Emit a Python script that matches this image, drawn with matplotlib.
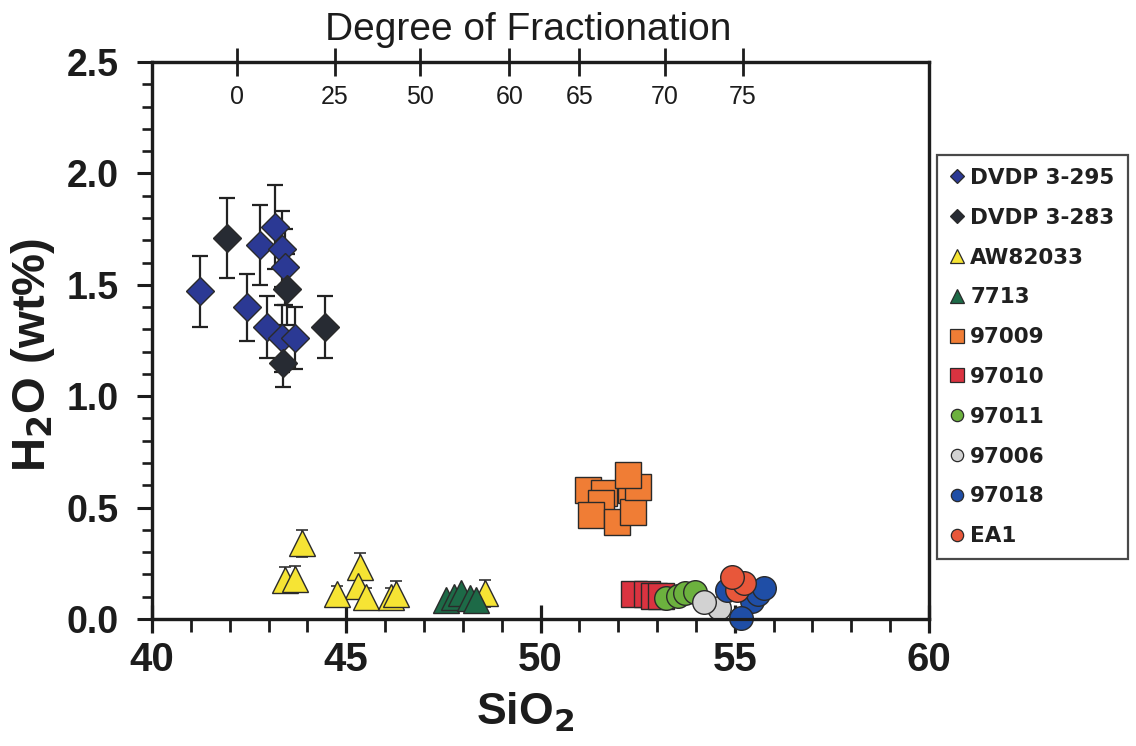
import matplotlib
matplotlib.use("Agg")
import matplotlib.pyplot as plt
from matplotlib.ticker import MultipleLocator
from matplotlib.lines import Line2D

plt.rcParams['font.family'] = ['Liberation Sans', 'DejaVu Sans']

# ---------------- data ----------------
dvdp295_x = [41.24, 42.44, 42.78, 42.95, 43.17, 43.34, 43.42, 43.34, 43.68]
dvdp295_y = [1.47, 1.40, 1.68, 1.31, 1.76, 1.66, 1.58, 1.26, 1.26]
dvdp295_e = [0.16, 0.15, 0.18, 0.14, 0.19, 0.17, 0.17, 0.15, 0.14]

dvdp283_x = [41.93, 43.47, 43.38, 44.45]
dvdp283_y = [1.71, 1.48, 1.15, 1.31]
dvdp283_e = [0.18, 0.16, 0.11, 0.14]

aw_x = [43.85, 43.42, 43.68, 45.35, 45.31, 44.75, 45.52, 46.16, 46.29, 48.56]
aw_y = [0.34, 0.175, 0.18, 0.235, 0.15, 0.11, 0.10, 0.10, 0.11, 0.115]
aw_e = [0.06, 0.06, 0.06, 0.06, 0.06, 0.04, 0.04, 0.04, 0.06, 0.06]

g7713_x = [47.57, 47.78, 47.95, 48.18, 48.33]
g7713_y = [0.085, 0.10, 0.115, 0.093, 0.085]

s97009_x = [51.21, 51.64, 52.32, 51.55, 51.30, 51.98, 52.37, 52.50, 52.24]
s97009_y = [0.579, 0.564, 0.579, 0.519, 0.467, 0.437, 0.482, 0.594, 0.646]

s97010_x = [52.40, 52.73, 52.91, 53.09]
s97010_y = [0.11, 0.11, 0.105, 0.105]

s97011_x = [53.22, 53.55, 53.72, 53.98]
s97011_y = [0.095, 0.105, 0.115, 0.12]

s97006_x = [54.60, 54.21]
s97006_y = [0.05, 0.075]

s97018_x = [54.81, 55.45, 55.60, 55.75, 55.15]
s97018_y = [0.13, 0.08, 0.11, 0.14, 0.005]

ea1_x = [55.06, 55.23, 54.93]
ea1_y = [0.13, 0.16, 0.19]

frac_sio2 = [42.2, 44.7, 46.9, 49.2, 51.0, 53.2, 55.2]
frac_labels = ['0', '25', '50', '60', '65', '70', '75']

# ---------------- figure ----------------
W, H = 1136, 746
X0, X1, Y0, Y1 = 152, 929, 619, 62
fig = plt.figure(figsize=(W / 100, H / 100), dpi=100)
ax = fig.add_axes([X0 / W, (H - Y0) / H, (X1 - X0) / W, (Y0 - Y1) / H])

ink = '#1c1c1c'
edge = '#2a2a2a'
err_kw = dict(fmt='none', ecolor='#222222', elinewidth=1.6, capsize=5.5, capthick=1.6, zorder=2)

# error bars
ax.errorbar(dvdp295_x, dvdp295_y, yerr=dvdp295_e, **err_kw)
ax.errorbar(dvdp283_x, dvdp283_y, yerr=dvdp283_e, **err_kw)
ax.errorbar(aw_x, aw_y, yerr=aw_e, fmt='none', ecolor='#333333', elinewidth=1.2,
            capsize=4, capthick=1.2, zorder=2)

series = [
    (dvdp295_x, dvdp295_y, 'D', 14, '#2b3994', 'DVDP 3-295'),
    (dvdp283_x, dvdp283_y, 'D', 14, '#272b33', 'DVDP 3-283'),
    (aw_x, aw_y, '^', 19, '#f6e434', 'AW82033'),
    (g7713_x, g7713_y, '^', 19, '#1d6a47', '7713'),
    (s97009_x, s97009_y, 's', 19, '#f07d35', '97009'),
    (s97010_x, s97010_y, 's', 19, '#da3340', '97010'),
    (s97011_x, s97011_y, 'o', 17, '#6cb13e', '97011'),
    (s97006_x, s97006_y, 'o', 17, '#d2d2d2', '97006'),
    (s97018_x, s97018_y, 'o', 17, '#1f4ea6', '97018'),
    (ea1_x, ea1_y, 'o', 17, '#e8573a', 'EA1'),
]

handles = []
for xs, ys, mk, ms, col, lab in series:
    ax.plot(xs, ys, linestyle='none', marker=mk, markersize=ms, markerfacecolor=col,
            markeredgecolor=edge, markeredgewidth=1.0, zorder=3, clip_on=False)
    handles.append(Line2D([], [], linestyle='none', marker=mk, markersize=ms * 0.52,
                          markerfacecolor=col, markeredgecolor=edge, markeredgewidth=0.9,
                          label=lab))

ax.set_xlim(40, 60)
ax.set_ylim(0, 2.5)

for s in ax.spines.values():
    s.set_linewidth(2.3)
    s.set_color(ink)

ax.xaxis.set_minor_locator(MultipleLocator(1))
ax.yaxis.set_minor_locator(MultipleLocator(0.1))
ax.set_yticks([0, 0.5, 1.0, 1.5, 2.0, 2.5])
ax.set_yticklabels(['0.0', '0.5', '1.0', '1.5', '2.0', '2.5'])
ax.set_xticks([40, 45, 50, 55, 60])
ax.set_xticklabels(['40', '45', '50', '55', '60'])

ax.tick_params(axis='x', which='major', direction='inout', length=20, width=2.3,
               labelsize=29, pad=6, colors=ink)
ax.tick_params(axis='x', which='minor', direction='out', length=9, width=2.0, colors=ink)
ax.tick_params(axis='y', which='major', direction='out', length=11, width=2.2,
               labelsize=27, pad=13, colors=ink)
ax.tick_params(axis='y', which='minor', direction='out', length=7, width=1.9, colors=ink)
ax.tick_params(top=False, right=False, which='both')
for lab in ax.get_xticklabels() + ax.get_yticklabels():
    lab.set_fontweight('bold')

ax.set_xlabel('SiO$_\\mathbf{2}$', fontsize=32, fontweight='bold', color=ink,
              va='center', ha='center')
ax.xaxis.set_label_coords((525 - X0) / (X1 - X0), (Y0 - 712) / (Y0 - Y1))
ax.set_ylabel('H$_\\mathbf{2}$O (wt%)', fontsize=34, fontweight='bold', color=ink,
              va='center', ha='center')
ax.yaxis.set_label_coords((33 - X0) / (X1 - X0), (Y0 - 355) / (Y0 - Y1))

# top axis: degree of fractionation
ax2 = ax.twiny()
ax2.set_xlim(ax.get_xlim())
ax2.set_xticks(frac_sio2)
ax2.set_xticklabels(frac_labels)
ax2.xaxis.set_minor_locator(plt.NullLocator())
ax2.tick_params(axis='x', which='major', direction='inout', length=20, width=2.0,
                labelsize=18, pad=-44, colors=ink)
ax2.set_xlabel('Degree of Fractionation', fontsize=28, color=ink, va='center', ha='center')
ax2.xaxis.set_label_coords((528 - X0) / (X1 - X0), (Y0 - 30) / (Y0 - Y1))
for s in ax2.spines.values():
    s.set_linewidth(2.3)
    s.set_color(ink)

leg = fig.legend(handles=handles, loc='upper left',
                 bbox_to_anchor=(937 / W, (H - 155) / H), bbox_transform=fig.transFigure,
                 prop={'family': 'DejaVu Sans', 'weight': 'bold', 'size': 15.5},
                 frameon=True, fancybox=False, handlelength=0.7, handletextpad=0.25,
                 labelspacing=0.92, borderpad=0.6, borderaxespad=0.0)
leg.get_frame().set_edgecolor(ink)
leg.get_frame().set_linewidth(1.6)
for t in leg.get_texts():
    t.set_color('#202020')

fig.savefig('out.png', dpi=100)
